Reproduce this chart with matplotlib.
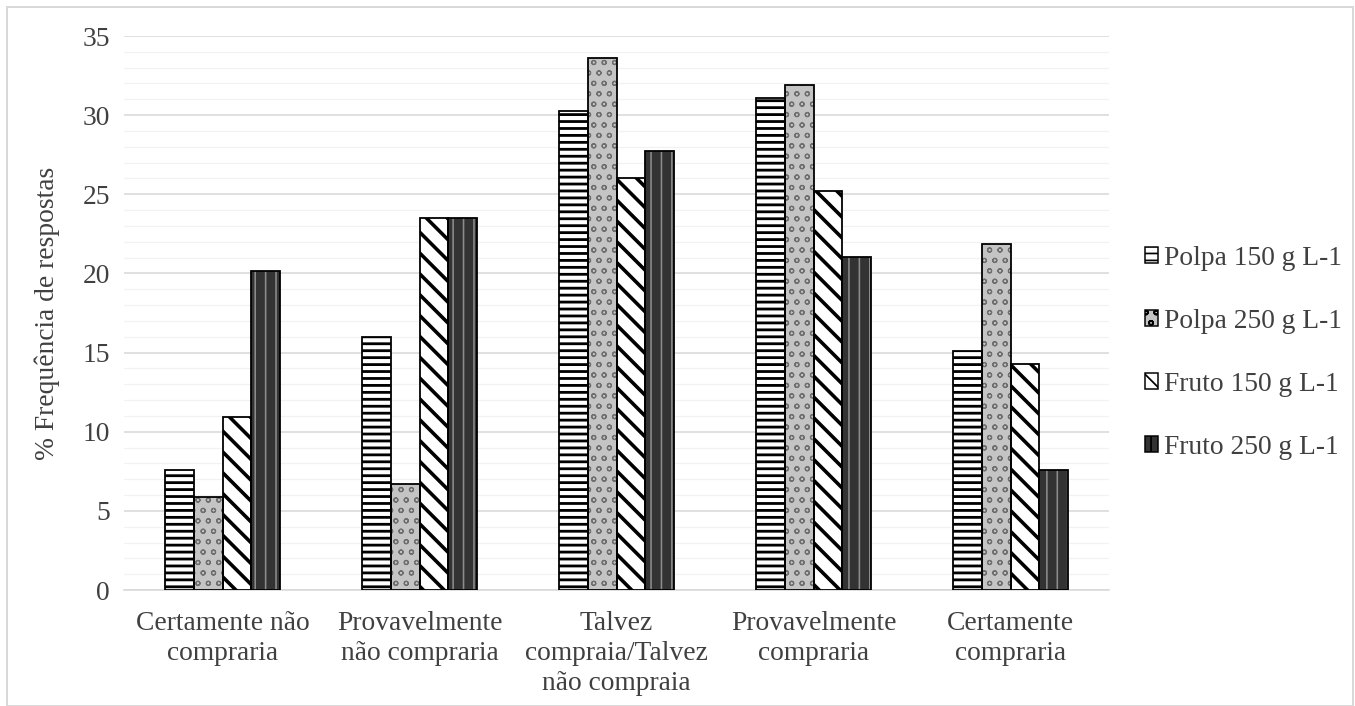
import matplotlib
matplotlib.use('Agg')
import matplotlib.pyplot as plt
import numpy as np
from matplotlib.patches import Patch, Rectangle

categories = ['Certamente não\ncompraria', 'Provavelmente\nnão compraria',
              'Talvez\ncompraia/Talvez\nnão compraia', 'Provavelmente\ncompraria',
              'Certamente\ncompraria']
series = ['Polpa 150 g L-1', 'Polpa 250 g L-1', 'Fruto 150 g L-1', 'Fruto 250 g L-1']
polpa150 = [7.56, 15.97, 30.25, 31.09, 15.13]
polpa250 = [5.88, 6.72, 33.61, 31.93, 21.85]
fruto150 = [10.92, 23.53, 26.05, 25.21, 14.29]
fruto250 = [20.17, 23.53, 27.73, 21.01, 7.56]
values = [polpa150, polpa250, fruto150, fruto250]

DPI = 125  # hatch tile is one inch, so dpi sets the stripe spacing
W, H = 1355, 706


def pt(px):
    return px * 72 / DPI


# face colour, hatch colour, hatch, hatch width (px)
styles = [('white', 'black', '---', 2.8),
          ('#c4c4c4', '#6e6e6e', 'oo', 1.2),
          ('white', 'black', '\\\\', 3.6),
          ('#333333', '#8c8c8c', '||', 1.6)]

plt.rcParams['font.family'] = ['Liberation Serif', 'DejaVu Serif']
fs = pt(27.5)

fig = plt.figure(figsize=(W / DPI, H / DPI), dpi=DPI)
ax = fig.add_axes([124 / W, 116 / H, 985 / W, (590 - 36) / H])

x = np.arange(len(categories))
w = 0.145
for i, (vals, (fc, hc, h, hl)) in enumerate(zip(values, styles)):
    pos = x + (i - 1.5) * w
    with plt.rc_context({'hatch.linewidth': pt(hl)}):
        ax.bar(pos, vals, w, color=fc, edgecolor=hc, hatch=h, linewidth=0, zorder=3)
    ax.bar(pos, vals, w, fill=False, edgecolor='black', linewidth=pt(1.8), zorder=4)

ax.set_xlim(-0.5, len(categories) - 0.5)
ax.set_ylim(0, 35)
ax.set_yticks(np.arange(0, 36, 5))
ax.set_yticks(np.arange(0, 36, 1), minor=True)
ax.grid(axis='y', which='major', color='#d9d9d9', linewidth=pt(1.6), zorder=0)
ax.grid(axis='y', which='minor', color='#f2f2f2', linewidth=pt(1.2), zorder=0)
ax.set_xticks(x)
ax.set_xticklabels(categories, fontsize=fs, linespacing=1.25)
ax.tick_params(axis='both', which='both', length=0, labelsize=fs, colors='#404040')
ax.tick_params(axis='x', pad=pt(21))
ax.tick_params(axis='y', pad=pt(14))
for s in ['top', 'right', 'left']:
    ax.spines[s].set_visible(False)
ax.spines['bottom'].set_color('#d9d9d9')
ax.spines['bottom'].set_linewidth(pt(1.6))
ax.set_ylabel('% Frequência de respostas', fontsize=fs, color='#404040', labelpad=pt(22))

handles = []
for fc, hc, h, hl in styles:
    handles.append(Patch(facecolor=fc, edgecolor='black', hatch=h, linewidth=pt(1.5)))
leg = ax.legend(handles, series, loc='center left', bbox_to_anchor=(1.011, 0.428),
                frameon=False, fontsize=fs, handlelength=0.5, handleheight=0.5,
                handletextpad=0.2, labelspacing=1.38, labelcolor='#404040')

fig.patches.append(Rectangle((7 / W, 0), 1346 / W, 699 / H, transform=fig.transFigure,
                             fill=False, edgecolor='#d9d9d9', linewidth=pt(2)))

fig.savefig('out.png', dpi=DPI)
